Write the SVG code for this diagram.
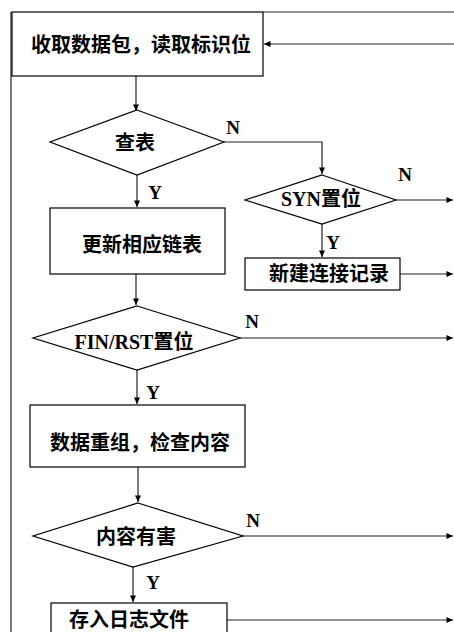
<svg xmlns="http://www.w3.org/2000/svg" width="454" height="632" viewBox="0 0 454 632">
<defs>
<style>
.box{fill:#fff;stroke:#000;stroke-width:1.2}
.ln{fill:none;stroke:#222;stroke-width:1.2}
.t{font-family:"Liberation Serif","Noto Sans CJK SC",serif;font-weight:bold;font-size:20px;text-anchor:middle;fill:#000}
.lb{font-family:"Liberation Serif",serif;font-weight:bold;font-size:19px;text-anchor:middle;fill:#000}
</style>
<marker id="ah" markerWidth="8" markerHeight="8" refX="7" refY="4" orient="auto" markerUnits="userSpaceOnUse">
<path d="M0.5,1 L7,4 L0.5,7 Z" fill="#000"/>
</marker>
</defs>
<rect width="454" height="632" fill="#fff"/>
<g id="connectors">
<path class="ln" d="M11,12 V632"/>
<path class="ln" d="M263,12 H454"/>
<path class="ln" d="M454,44 H264" marker-end="url(#ah)"/>
<path class="ln" d="M136,76 V111" marker-end="url(#ah)"/>
<path class="ln" d="M224,142 H322 V174" marker-end="url(#ah)"/>
<path class="ln" d="M396,200 H453" marker-end="url(#ah)"/>
<path class="ln" d="M322,224 V257" marker-end="url(#ah)"/>
<path class="ln" d="M400,274 H453" marker-end="url(#ah)"/>
<path class="ln" d="M137,175 V207" marker-end="url(#ah)"/>
<path class="ln" d="M136,274 V305" marker-end="url(#ah)"/>
<path class="ln" d="M240,338 H453" marker-end="url(#ah)"/>
<path class="ln" d="M137,370 V404" marker-end="url(#ah)"/>
<path class="ln" d="M138,467 V502" marker-end="url(#ah)"/>
<path class="ln" d="M243,536 H453" marker-end="url(#ah)"/>
<path class="ln" d="M133,567 V602" marker-end="url(#ah)"/>
<path class="ln" d="M227,620 H453" marker-end="url(#ah)"/>
<text class="lb" x="233" y="134">N</text>
<text class="lb" x="405" y="181">N</text>
<text class="lb" x="252" y="328">N</text>
<text class="lb" x="253" y="527">N</text>
<text class="lb" x="155" y="199">Y</text>
<text class="lb" x="333" y="249">Y</text>
<text class="lb" x="153" y="399">Y</text>
<text class="lb" x="153" y="589">Y</text>
</g>
<g id="receive">
<rect class="box" x="12" y="12" width="251" height="64"/>
<text class="t" x="141" y="52">收取数据包，读取标识位</text>
</g>
<g id="lookup">
<polygon class="box" points="137,110 224,142 137,175 50,142"/>
<text class="t" x="135" y="150">查表</text>
</g>
<g id="syn">
<polygon class="box" points="322,175 396,200 322,224 245,200"/>
<text class="t" x="321" y="206">SYN置位</text>
</g>
<g id="update">
<rect class="box" x="50" y="208" width="175" height="66"/>
<text class="t" x="142" y="252">更新相应链表</text>
</g>
<g id="newconn">
<rect class="box" x="245" y="258" width="155" height="32"/>
<text class="t" x="329" y="281">新建连接记录</text>
</g>
<g id="finrst">
<polygon class="box" points="137,306 240,338 137,370 33,338"/>
<text class="t" x="134" y="349">FIN/RST置位</text>
</g>
<g id="reassemble">
<rect class="box" x="30" y="405" width="215" height="62"/>
<text class="t" x="140" y="450">数据重组，检查内容</text>
</g>
<g id="harmful">
<polygon class="box" points="138,503 243,536 133,567 33,536"/>
<text class="t" x="136" y="544">内容有害</text>
</g>
<g id="log">
<rect class="box" x="51" y="603" width="176" height="40"/>
<text class="t" x="129" y="627">存入日志文件</text>
</g>
</svg>
